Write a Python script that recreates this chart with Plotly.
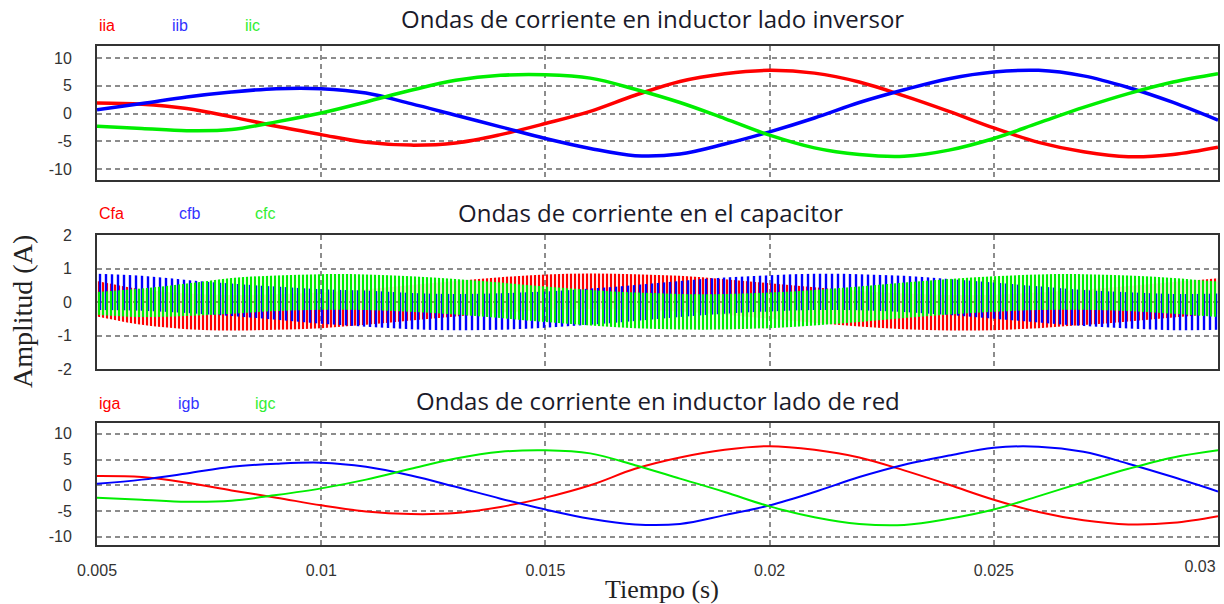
import plotly.graph_objects as go

# Sample instants (s)
tiempo = [0.005, 0.006, 0.007, 0.008, 0.009, 0.010, 0.011, 0.012, 0.013,
          0.014, 0.015, 0.016, 0.017, 0.018, 0.019, 0.020, 0.021, 0.022,
          0.023, 0.024, 0.025, 0.026, 0.027, 0.028, 0.029, 0.030]

# Inverter-side inductor currents (A)
iia = [1.9, 1.7, 0.9, -0.6, -2.3, -3.8, -5.2, -5.7, -5.3, -3.8, -1.8, 0.4, 3.3,
       5.8, 7.2, 7.8, 7.3, 5.7, 3.2, 0.4, -2.6, -5.2, -6.9, -7.8, -7.4, -6.1]
iib = [0.7, 1.8, 3.0, 3.9, 4.5, 4.5, 3.7, 1.8, -0.3, -2.4, -4.5, -6.3, -7.6,
       -7.3, -5.5, -3.3, -0.8, 2.0, 4.3, 6.3, 7.5, 7.8, 6.8, 4.7, 2.0, -1.2]
iic = [-2.3, -2.7, -3.1, -2.9, -1.5, 0.1, 2.1, 4.2, 6.0, 6.9, 7.0, 6.4, 4.4,
       2.0, -0.9, -3.9, -6.2, -7.4, -7.7, -6.6, -4.5, -1.7, 1.1, 3.6, 5.7, 7.2]

# Capacitor currents: upper / lower envelope of the switching ripple (A)
cfa_sup = [0.63, 0.38, 0.25, 0.21, 0.23, 0.28, 0.38, 0.51, 0.63, 0.74, 0.82, 0.85, 0.83,
           0.78, 0.68, 0.56, 0.44, 0.33, 0.25, 0.21, 0.22, 0.28, 0.37, 0.48, 0.60, 0.71]
cfa_inf = [-0.43, -0.68, -0.81, -0.85, -0.83, -0.78, -0.68, -0.55, -0.43, -0.32, -0.24, -0.21, -0.23,
           -0.28, -0.38, -0.50, -0.62, -0.73, -0.81, -0.85, -0.84, -0.78, -0.69, -0.58, -0.46, -0.35]
cfb_sup = [0.84, 0.78, 0.66, 0.55, 0.46, 0.38, 0.34, 0.27, 0.24, 0.26, 0.31, 0.40, 0.51,
           0.63, 0.73, 0.80, 0.84, 0.83, 0.78, 0.69, 0.58, 0.47, 0.36, 0.29, 0.24, 0.25]
cfb_inf = [-0.24, -0.26, -0.33, -0.42, -0.53, -0.65, -0.74, -0.81, -0.84, -0.83, -0.77, -0.68, -0.57,
           -0.45, -0.35, -0.28, -0.24, -0.25, -0.30, -0.39, -0.50, -0.61, -0.72, -0.79, -0.84, -0.83]
cfc_sup = [0.30, 0.40, 0.55, 0.72, 0.79, 0.83, 0.82, 0.77, 0.69, 0.58, 0.46, 0.36, 0.28,
           0.24, 0.24, 0.28, 0.36, 0.46, 0.58, 0.69, 0.77, 0.82, 0.83, 0.79, 0.72, 0.61]
cfc_inf = [-0.38, -0.45, -0.42, -0.35, -0.27, -0.23, -0.24, -0.29, -0.37, -0.48, -0.60, -0.70, -0.78,
           -0.82, -0.82, -0.78, -0.70, -0.60, -0.48, -0.37, -0.29, -0.24, -0.23, -0.27, -0.35, -0.45]

# Grid-side inductor currents (A)
iga = [1.8, 1.6, 0.5, -1.0, -2.4, -3.9, -5.1, -5.6, -5.4, -4.2, -2.4, 0.0, 3.2,
       5.4, 6.9, 7.6, 6.9, 5.4, 2.9, 0.1, -2.8, -5.2, -6.8, -7.6, -7.3, -6.0]
igb = [0.3, 1.1, 2.3, 3.6, 4.2, 4.4, 3.6, 1.9, -0.3, -2.6, -4.7, -6.5, -7.6,
       -7.5, -5.8, -3.9, -1.3, 1.6, 4.0, 5.8, 7.3, 7.5, 6.5, 4.2, 1.6, -1.2]
igc = [-2.4, -2.8, -3.2, -3.0, -1.9, -0.6, 1.1, 3.2, 5.2, 6.5, 6.8, 6.2, 3.9,
       1.3, -1.3, -4.1, -6.2, -7.5, -7.7, -6.5, -4.7, -2.1, 0.6, 3.2, 5.4, 6.8]

x_ticks = [0.005, 0.01, 0.015, 0.02, 0.025]
x_labels = ["0.005", "0.01", "0.015", "0.02", "0.025"]
x_tick_end = [0.03]
x_label_end = ["0.03"]
y_ticks_i = [-10, -5, 0, 5, 10]
y_labels_i = ["-10", "-5", "0", "5", "10"]
y_ticks_c = [-2, -1, 0, 1, 2]
y_labels_c = ["-2", "-1", "0", "1", "2"]

ROJO, AZUL, VERDE = "#ff0000", "#0000ff", "#00ee00"
W, H = 1224, 604


def fy(py):
    return 1 - py / H


def fx(px):
    return px / W


fig = go.Figure()

# Panel 1: inverter-side currents
for serie, color, name in [(iia, ROJO, "iia"), (iib, AZUL, "iib"), (iic, VERDE, "iic")]:
    fig.add_trace(go.Scatter(x=tiempo, y=serie, mode="lines", name=name,
                             line=dict(color=color, width=3.5, shape="spline"),
                             xaxis="x", yaxis="y", showlegend=False))

# Panel 2: capacitor currents drawn as striped ripple bands
for sup, inf, color, size, solid, name in [(cfa_sup, cfa_inf, ROJO, 4, 0.55, "Cfa"),
                                           (cfb_sup, cfb_inf, AZUL, 6, 0.4, "cfb"),
                                           (cfc_sup, cfc_inf, VERDE, 4, 0.55, "cfc")]:
    fig.add_trace(go.Scatter(x=tiempo, y=sup, mode="lines",
                             line=dict(color=color, width=0, shape="spline"),
                             xaxis="x2", yaxis="y2", showlegend=False, hoverinfo="skip"))
    fig.add_trace(go.Scatter(x=tiempo, y=inf, mode="lines", name=name,
                             line=dict(color=color, width=0, shape="spline"),
                             fill="tonexty", fillcolor="rgba(0,0,0,0)",
                             fillpattern=dict(shape="|", size=size, solidity=solid,
                                              fgcolor=color, fgopacity=1,
                                              bgcolor="rgba(0,0,0,0)"),
                             xaxis="x2", yaxis="y2", showlegend=False))

# Panel 3: grid-side currents
for serie, color, name in [(iga, ROJO, "iga"), (igb, AZUL, "igb"), (igc, VERDE, "igc")]:
    fig.add_trace(go.Scatter(x=tiempo, y=serie, mode="lines", name=name,
                             line=dict(color=color, width=2, shape="spline"),
                             xaxis="x3", yaxis="y3", showlegend=False))

tick_font = dict(family="Liberation Sans, Arial, sans-serif", size=16, color="#333333")
x_dom = [fx(97), fx(1218)]

common_x = dict(range=[0.005, 0.03], domain=x_dom, tickvals=x_ticks, ticktext=x_labels,
                showgrid=True, gridcolor="#8c8c8c", gridwidth=1.5, griddash="5px,4px",
                showline=True, linecolor="#333333", linewidth=2, mirror=True,
                zeroline=False, ticks="", tickfont=tick_font, ticklabelstandoff=10,
                automargin=False)
common_y = dict(showgrid=True, gridcolor="#8c8c8c", gridwidth=1.5, griddash="5px,4px",
                showline=True, linecolor="#333333", linewidth=2, mirror=True,
                zeroline=False, ticks="", tickfont=tick_font, ticklabelstandoff=20,
                automargin=False)

fig.update_layout(
    width=W, height=H,
    margin=dict(l=0, r=0, t=0, b=0, pad=0, autoexpand=False),
    paper_bgcolor="white", plot_bgcolor="white",
    xaxis=dict(common_x, anchor="y", showticklabels=False),
    xaxis2=dict(common_x, anchor="y2", showticklabels=False, matches="x"),
    xaxis3=dict(common_x, anchor="y3", matches="x"),
    # end label of the time axis, nudged inside the frame
    xaxis4=dict(range=[0.005, 0.03], domain=x_dom, overlaying="x3", anchor="y3",
                side="bottom", tickvals=x_tick_end, ticktext=x_label_end,
                showgrid=False, showline=False, zeroline=False, ticks="",
                tickfont=tick_font, ticklabelstandoff=10, ticklabelshift=-18,
                automargin=False),
    yaxis=dict(common_y, anchor="x", domain=[fy(180), fy(46)], range=[-12.0, 12.2],
               tickvals=y_ticks_i, ticktext=y_labels_i),
    yaxis2=dict(common_y, anchor="x2", domain=[fy(369), fy(235)], range=[-2, 2],
                tickvals=y_ticks_c, ticktext=y_labels_c),
    yaxis3=dict(common_y, anchor="x3", domain=[fy(545), fy(423)], range=[-11.6, 12.1],
                tickvals=y_ticks_i, ticktext=y_labels_i),
)

# empty trace bound to the end-label axis so that it gets drawn
fig.add_trace(go.Scatter(x=[], y=[], xaxis="x4", yaxis="y3", showlegend=False))

title_font = dict(family="Open Sans, Noto Sans, sans-serif", size=24, color="#1a1a2a")
label_font = dict(family="Liberation Sans, Arial, sans-serif", size=16)
serif_v = dict(family="Liberation Serif, Times New Roman, serif", size=28, color="#222222")
serif_h = dict(family="Liberation Serif, Times New Roman, serif", size=26, color="#222222")

annotations = [
    dict(text="Ondas de corriente en inductor lado inversor", x=fx(652), y=fy(19), font=title_font),
    dict(text="Ondas de corriente en el capacitor", x=fx(650), y=fy(213), font=title_font),
    dict(text="Ondas de corriente en inductor lado de red", x=fx(658), y=fy(400), font=title_font),
    dict(text="Amplitud (A)", x=fx(22), y=fy(312), textangle=-90, font=serif_v),
    dict(text="Tiempo (s)", x=fx(662), y=fy(589), font=serif_h),
]
legend_rows = [
    (25, [("iia", 97, ROJO), ("iib", 170, "#3333ff"), ("iic", 243, "#33ee33")]),
    (214, [("Cfa", 97, ROJO), ("cfb", 177, "#3333ff"), ("cfc", 253, "#33ee33")]),
    (403, [("iga", 97, ROJO), ("igb", 176, "#3333ff"), ("igc", 253, "#33ee33")]),
]
for py, items in legend_rows:
    for txt, px, col in items:
        annotations.append(dict(text=txt, x=fx(px), y=fy(py), xanchor="left",
                                font=dict(label_font, color=col)))

for a in annotations:
    a.setdefault("xanchor", "center")
    a.update(xref="paper", yref="paper", yanchor="middle", showarrow=False)

fig.update_layout(annotations=annotations)

fig.write_html("out.html")
